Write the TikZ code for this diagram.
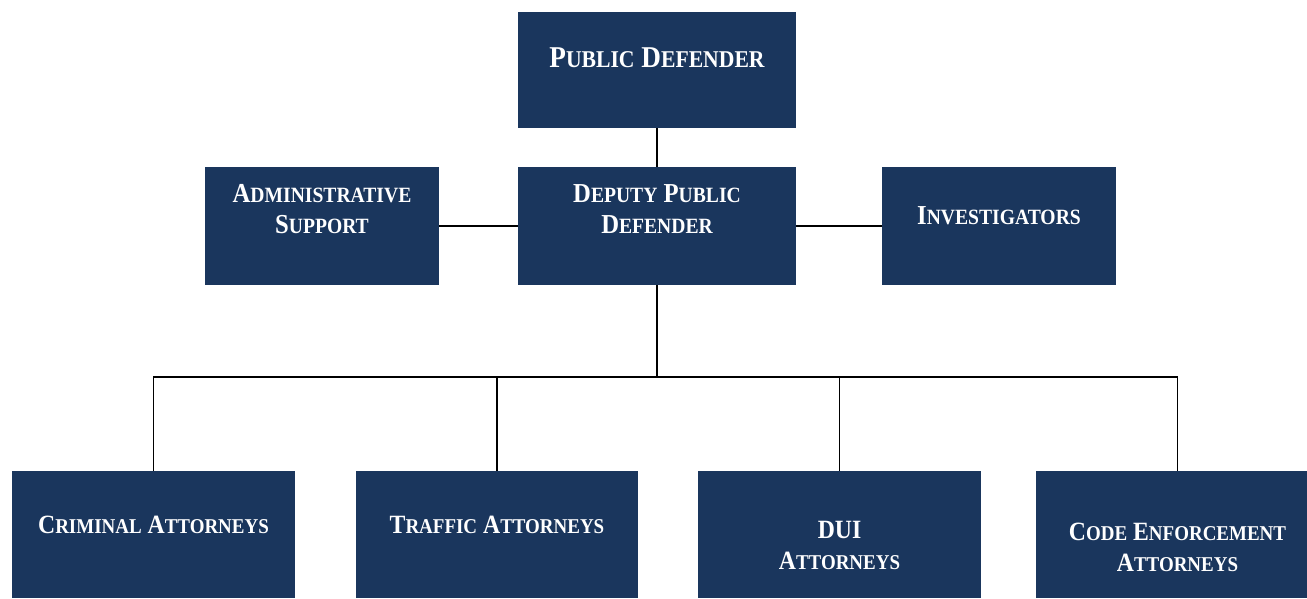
\documentclass[tikz,border=0pt]{standalone}
\usepackage{fontspec}
\setmainfont{Liberation Serif}[FakeStretch=0.9]
\definecolor{navy}{HTML}{1A365D}
\def\scsz{13.7pt}
\newcommand\smcap[2]{#1{\fontsize{\scsz}{17.6pt}\selectfont #2}}

\begin{document}
\begin{tikzpicture}[x=0.02cm, y=-0.02cm,
	box/.style 2 args={fill=navy, draw=none, inner sep=0pt, minimum width=#1, minimum height=#2},
	lbl/.style 2 args={text=white, align=center, inner sep=0pt, font=\bfseries\def\scsz{#2}\fontsize{#1}{17.6pt}\selectfont},
	wire/.style={line width=1.1pt, color=black}]
		%%%%% START %%%%%
		\useasboundingbox (0, 0) rectangle (1307, 598);
		
		\node[box={5.56cm}{2.32cm}, label={[lbl={17.2pt}{13.7pt}, yshift=0.24cm]center:\smcap{P}{UBLIC} \smcap{D}{EFENDER}}] (pd) at (657, 70) {};
		
		\node[box={5.56cm}{2.36cm}, label={[lbl={15.6pt}{12.4pt}, yshift=0.34cm]center:\smcap{D}{EPUTY} \smcap{P}{UBLIC}\\\smcap{D}{EFENDER}}] (dpd) at (657, 226) {};
		\node[box={4.68cm}{2.36cm}, label={[lbl={15.6pt}{12.4pt}, yshift=0.34cm]center:\smcap{A}{DMINISTRATIVE}\\\smcap{S}{UPPORT}}] (adm) at (322, 226) {};
		\node[box={4.68cm}{2.36cm}, label={[lbl={15.6pt}{12.4pt}, yshift=0.2cm]center:\smcap{I}{NVESTIGATORS}}] (inv) at (999, 226) {};
		
		\node[box={5.66cm}{2.54cm}, label={[lbl={15pt}{12pt}, yshift=0.19cm]center:\smcap{C}{RIMINAL} \smcap{A}{TTORNEYS}}] (crim) at (153.5, 534.5) {};
		\node[box={5.66cm}{2.54cm}, label={[lbl={15pt}{12pt}, yshift=0.19cm]center:\smcap{T}{RAFFIC} \smcap{A}{TTORNEYS}}] (traf) at (497, 534.5) {};
		\node[box={5.66cm}{2.54cm}, label={[lbl={15pt}{12pt}, yshift=-0.22cm]center:DUI\\\smcap{A}{TTORNEYS}}] (dui) at (839.5, 534.5) {};
		\node[box={5.66cm}{2.54cm}, label={[lbl={15pt}{12pt}, yshift=-0.25cm]center:\smcap{C}{ODE} \smcap{E}{NFORCEMENT}\\\smcap{A}{TTORNEYS}}] (code) at (1177.5, 534.5) {};
		
		\coordinate (bar) at (657, 377);
		
		\draw[wire] (pd) -- (dpd);
		\draw[wire] (adm) -- (dpd);
		\draw[wire] (dpd) -- (inv);
		\draw[wire] (dpd) -- (bar);
		
		\draw[wire] (bar) -| (crim.north);
		\draw[wire] (bar) -| (traf.north);
		\draw[wire] (bar) -| (dui.north);
		\draw[wire] (bar) -| (code.north);
		%%%%% END %%%%%
	\end{tikzpicture}
\end{document}
